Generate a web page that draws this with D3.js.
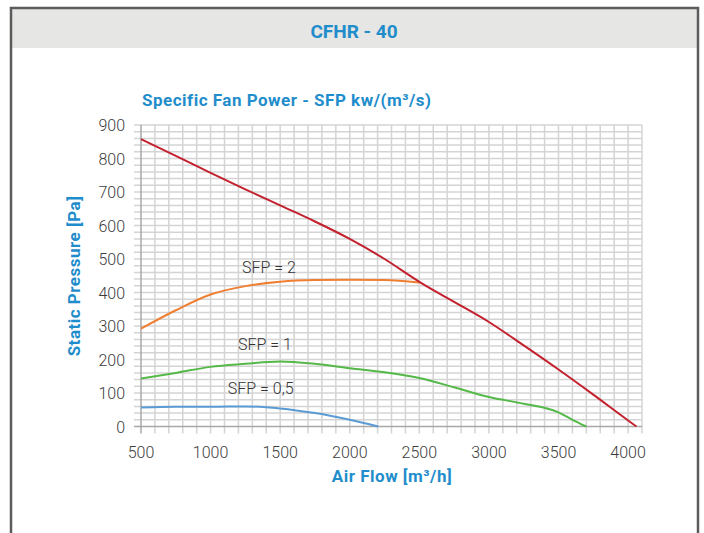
<!DOCTYPE html>
<html lang="en">
	<head>
		<meta charset="utf-8">
		<title>CFHR - 40</title>
		<script type="text/javascript" src="https://cdn.jsdelivr.net/npm/d3@7"></script>
		<style type="text/css">
			body { margin: 0; background: #fff; }
			svg { display: block; }

			.grid line { stroke: #d4d4d4; stroke-width: 1.5; }
			.axisLine { stroke: #a8a8a8; stroke-width: 1.5; }

			.tickLbl {
				font-family: Roboto, sans-serif;
				font-weight: 300;
				font-size: 16px;
				fill: #3c3c3c;
			}

			.blueLbl {
				font-family: Roboto, sans-serif;
				font-weight: 700;
				font-size: 17px;
				letter-spacing: 0.5px;
				fill: #1f8dcb;
			}

			.curve { fill: none; stroke-width: 2; }

			.sfpLbl {
				font-family: Roboto, sans-serif;
				font-weight: 300;
				font-size: 16px;
				fill: #333;
			}
		</style>
	</head>
	<body>
		<script type="text/javascript">

			var w = 704;
			var h = 533;

			// air flow m3/h
			var fanFlow = [500, 750, 1000, 1250, 1500, 1750, 2000, 2250, 2500, 2750, 3000, 3250, 3500, 3750, 4000, 4060];
			var fanPa   = [858, 808, 757, 708, 660, 612, 560, 500, 432, 372, 312, 242, 170, 95, 18, 0];

			var sfp2Flow = [500, 750, 1000, 1250, 1500, 1750, 2000, 2250, 2500];
			var sfp2Pa   = [292, 347, 394, 419, 432, 437, 438, 437, 430];

			var sfp1Flow = [500, 750, 1000, 1250, 1500, 1750, 2000, 2250, 2500, 2750, 3000, 3250, 3500, 3600, 3700];
			var sfp1Pa   = [143, 160, 178, 187, 194, 187, 174, 162, 145, 117, 88, 68, 42, 20, 0];

			var sfp05Flow = [500, 750, 1000, 1250, 1500, 1750, 2000, 2205];
			var sfp05Pa   = [57, 59, 59, 60, 54, 40, 20, 0];

			var xTicks = [500, 1000, 1500, 2000, 2500, 3000, 3500, 4000];
			var yTicks = [0, 100, 200, 300, 400, 500, 600, 700, 800, 900];

			var zip = function(xs, ys) {
				return xs.map(function(d, i) { return { flow: d, pa: ys[i] }; });
			};

			var xScale = d3.scaleLinear().domain([500, 4100]).range([141, 642]);
			var yScale = d3.scaleLinear().domain([0, 900]).range([426.5, 125]);

			var svg = d3.select('body')
						.append('svg')
						.attr('width', w)
						.attr('height', h);

			// frame + header band
			svg.append('rect')
				.attr('x', 11).attr('y', 8)
				.attr('width', 687).attr('height', 40)
				.attr('fill', '#e6e6e4');
			svg.append('path')
				.attr('d', 'M11,' + h + 'V8H698V' + h)
				.attr('fill', 'none')
				.attr('stroke', '#5c5c5c')
				.attr('stroke-width', 2.5);

			svg.append('text')
				.attr('x', 354).attr('y', 38)
				.attr('text-anchor', 'middle')
				.attr('font-family', 'Roboto, sans-serif')
				.attr('font-weight', 700)
				.attr('font-size', 19)
				.attr('fill', '#1f8dcb')
				.text('CFHR - 40');

			// grid: every 100 m3/h, every 20 Pa
			var grid = svg.append('g').attr('class', 'grid');
			grid.selectAll('.vl')
				.data(d3.range(600, 4101, 100))
				.enter().append('line')
				.attr('x1', function(d) { return xScale(d); })
				.attr('x2', function(d) { return xScale(d); })
				.attr('y1', yScale(900))
				.attr('y2', yScale(0) + 7);
			grid.selectAll('.hl')
				.data(d3.range(20, 901, 20))
				.enter().append('line')
				.attr('x1', xScale(500) - 7)
				.attr('x2', xScale(4100))
				.attr('y1', function(d) { return yScale(d); })
				.attr('y2', function(d) { return yScale(d); });

			svg.append('line').attr('class', 'axisLine')
				.attr('x1', xScale(500)).attr('x2', xScale(500))
				.attr('y1', yScale(900)).attr('y2', yScale(0) + 7);
			svg.append('line').attr('class', 'axisLine')
				.attr('x1', xScale(500) - 7).attr('x2', xScale(4100))
				.attr('y1', yScale(0)).attr('y2', yScale(0));

			svg.selectAll('.ylbl')
				.data(yTicks)
				.enter().append('text')
				.attr('class', 'tickLbl')
				.attr('text-anchor', 'end')
				.attr('x', 125)
				.attr('y', function(d) { return yScale(d) + 6; })
				.text(function(d) { return d; });

			svg.selectAll('.xlbl')
				.data(xTicks)
				.enter().append('text')
				.attr('class', 'tickLbl')
				.attr('text-anchor', 'middle')
				.attr('x', function(d) { return xScale(d); })
				.attr('y', 458)
				.text(function(d) { return d; });

			var line = d3.line()
						.curve(d3.curveMonotoneX)
						.x(function(d) { return xScale(d.flow); })
						.y(function(d) { return yScale(d.pa); });

			var series = [
				{ data: zip(sfp05Flow, sfp05Pa), color: '#5b9bd5' },
				{ data: zip(sfp1Flow, sfp1Pa), color: '#54b948' },
				{ data: zip(sfp2Flow, sfp2Pa), color: '#f07f32' },
				{ data: zip(fanFlow, fanPa), color: '#c4212f' }
			];

			series.forEach(function(s) {
				svg.append('path')
					.datum(s.data)
					.attr('class', 'curve')
					.attr('stroke', s.color)
					.attr('d', line);
			});

			var sfpLabels = [
				{ t: 'SFP = 2', flow: 1420, pa: 458 },
				{ t: 'SFP = 1', flow: 1390, pa: 228 },
				{ t: 'SFP = 0,5', flow: 1360, pa: 96 }
			];
			svg.selectAll('.sfp')
				.data(sfpLabels)
				.enter().append('text')
				.attr('class', 'sfpLbl')
				.attr('text-anchor', 'middle')
				.attr('x', function(d) { return xScale(d.flow); })
				.attr('y', function(d) { return yScale(d.pa); })
				.text(function(d) { return d.t; });

			svg.append('text')
				.attr('class', 'blueLbl')
				.attr('x', 142).attr('y', 106)
				.text('Specific Fan Power - SFP kw/(m³/s)');

			svg.append('text')
				.attr('class', 'blueLbl')
				.attr('transform', 'translate(80,276) rotate(-90)')
				.attr('text-anchor', 'middle')
				.text('Static Pressure [Pa]');

			svg.append('text')
				.attr('class', 'blueLbl')
				.attr('x', 392).attr('y', 482)
				.attr('text-anchor', 'middle')
				.text('Air Flow [m³/h]');

		</script>
	</body>
</html>
